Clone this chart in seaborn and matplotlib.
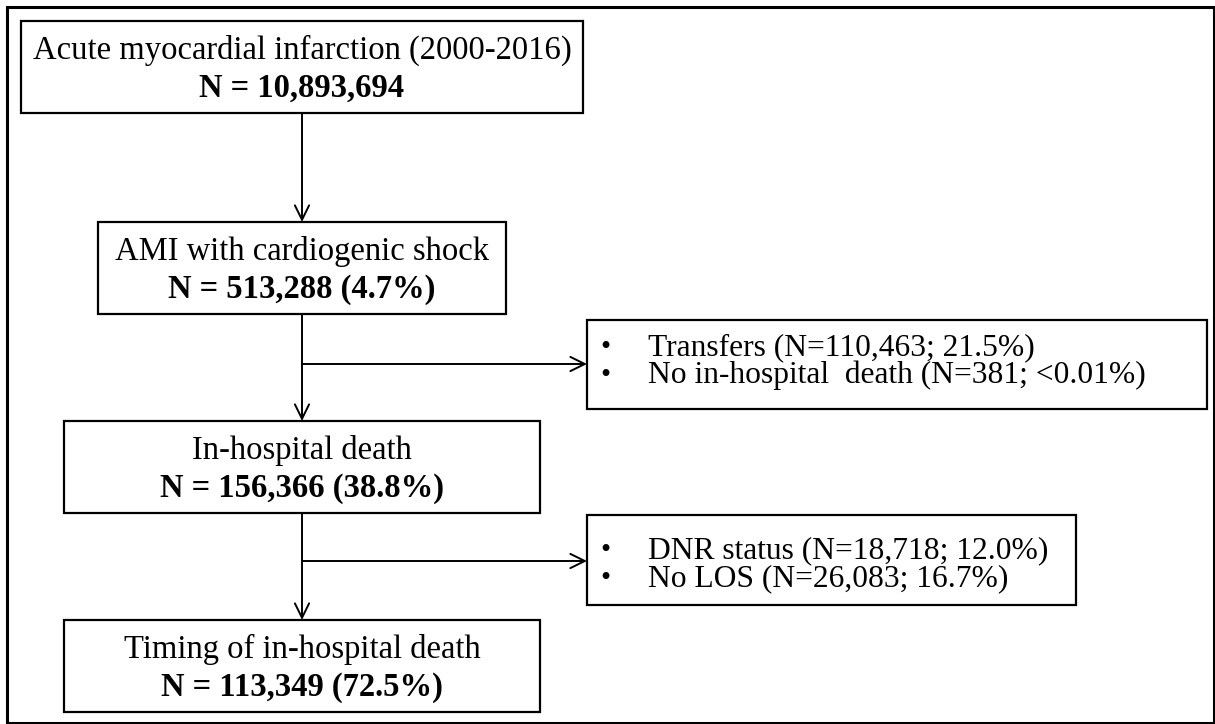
import matplotlib
matplotlib.use("Agg")
import matplotlib.pyplot as plt
import seaborn as sns
from matplotlib.patches import Rectangle

# Flowchart content
main_titles = [
    "Acute myocardial infarction (2000-2016)",
    "AMI with cardiogenic shock",
    "In-hospital death",
    "Timing of in-hospital death",
]
main_counts = [
    "N = 10,893,694",
    "N = 513,288 (4.7%)",
    "N = 156,366 (38.8%)",
    "N = 113,349 (72.5%)",
]
excluded_after_shock = ["Transfers (N=110,463; 21.5%)", "No in-hospital  death (N=381; <0.01%)"]
excluded_after_death = ["DNR status (N=18,718; 12.0%)", "No LOS (N=26,083; 16.7%)"]

# Layout in pixel units (left, right, top, bottom)
main_boxes = [(21, 583, 21, 113), (98, 506, 222, 314), (64, 540, 421, 513), (64, 540, 620, 712)]
side_boxes = [(587, 1207, 320, 409), (587, 1076, 515, 605)]
side_first_baseline = [355, 558]
branch_y = [364, 561]
spine_x = 302

sns.set_theme(style="white")
plt.rcParams["font.family"] = ["Liberation Serif", "DejaVu Serif"]
plt.rcParams["text.color"] = "black"

fig = plt.figure(figsize=(12.15, 7.24), dpi=100)
ax = fig.add_axes([0, 0, 1, 1])
ax.set_xlim(0, 1215)
ax.set_ylim(724, 0)
ax.axis("off")

# outer frame
ax.add_patch(Rectangle((7, 7), 1207, 716, fill=False, lw=2.2, ec="black"))

arrow_kw = dict(arrowstyle="->,head_length=0.65,head_width=0.32", lw=1.4,
                color="black", shrinkA=0, shrinkB=0, mutation_scale=16)

for (l, r, t, b), title, count in zip(main_boxes, main_titles, main_counts):
    ax.add_patch(Rectangle((l, t), r - l, b - t, fill=False, lw=1.6, ec="black"))
    ax.text((l + r) / 2, t + 38, title, ha="center", va="baseline", fontsize=23.5,
            color="black")
    ax.text((l + r) / 2, t + 76, count, ha="center", va="baseline", fontsize=23.5,
            fontweight="bold", color="black")

# vertical arrows between main boxes
for upper, lower in zip(main_boxes[:-1], main_boxes[1:]):
    ax.annotate("", xy=(spine_x, lower[2]), xytext=(spine_x, upper[3] + 1), arrowprops=arrow_kw)

# side exclusion boxes
for (l, r, t, b), y, y0, lines in zip(side_boxes, branch_y, side_first_baseline,
                                      [excluded_after_shock, excluded_after_death]):
    ax.add_patch(Rectangle((l, t), r - l, b - t, fill=False, lw=1.6, ec="black"))
    ax.annotate("", xy=(l, y), xytext=(spine_x, y), arrowprops=arrow_kw)
    for i, line in enumerate(lines):
        yy = y0 + 28 * i
        ax.text(l + 18, yy, "\u2022", ha="center", va="baseline", fontsize=21, color="black")
        ax.text(l + 61, yy, line, ha="left", va="baseline", fontsize=22.7, color="black")

fig.savefig("out.png", dpi=100)
